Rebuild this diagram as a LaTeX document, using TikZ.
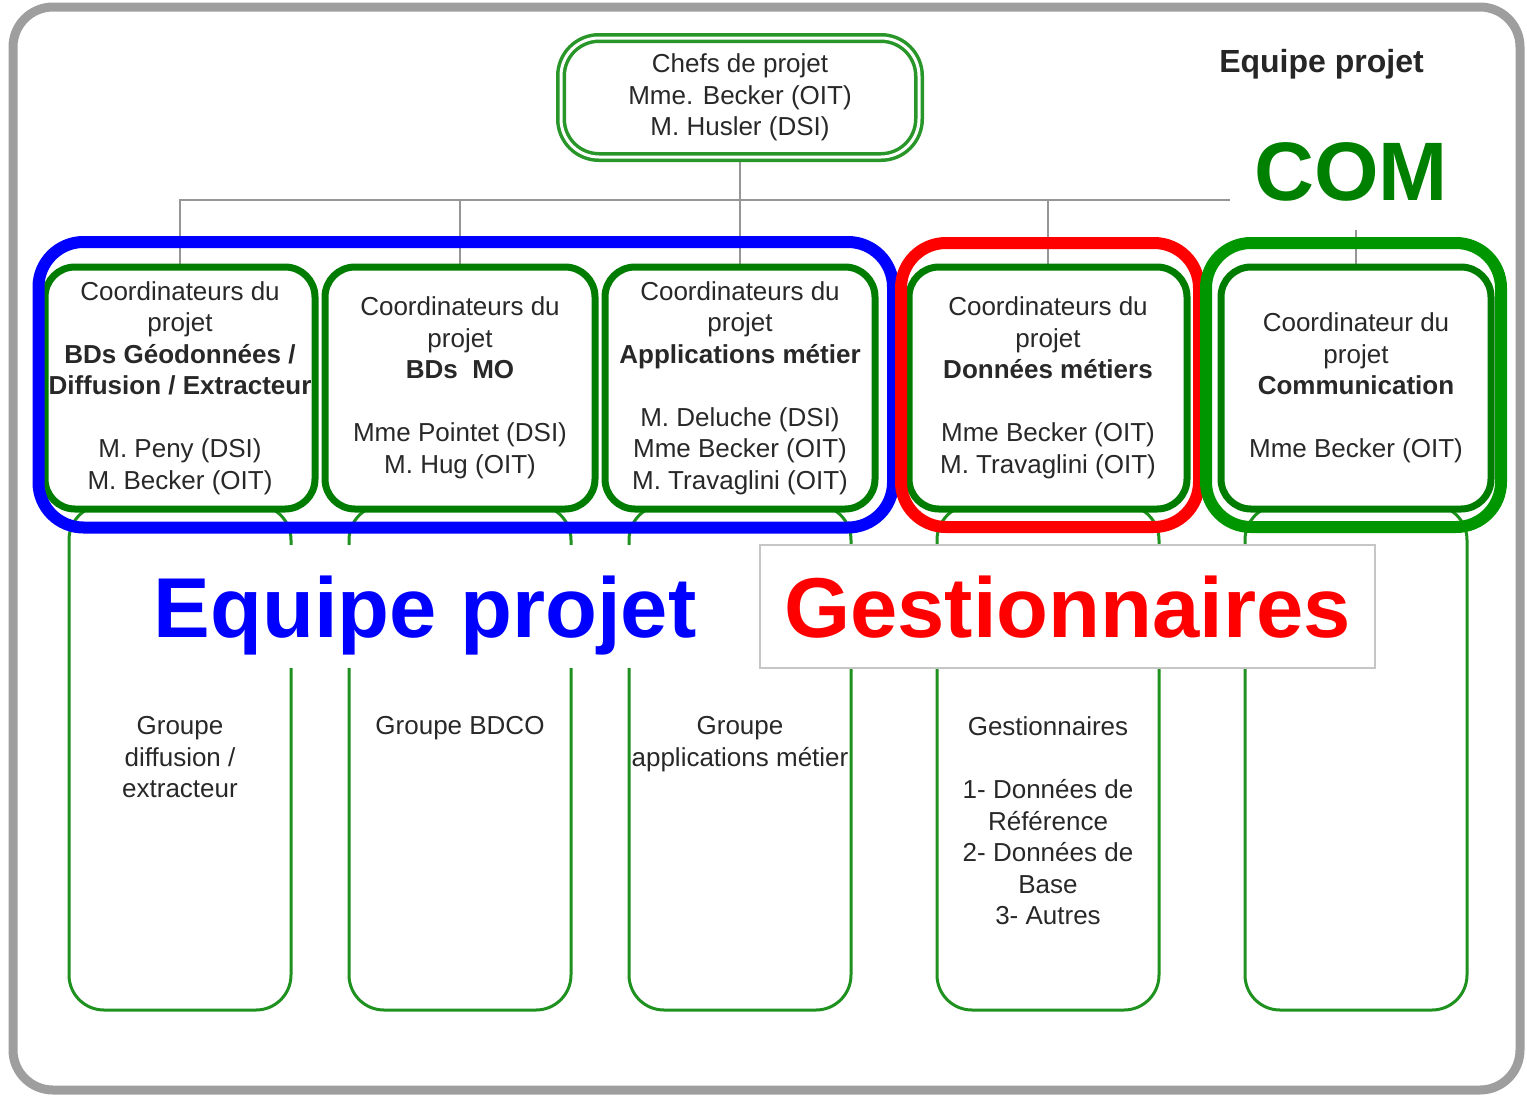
\documentclass[tikz,border=0pt]{standalone}
\usepackage{fontspec}
\setmainfont{Liberation Sans}
\usetikzlibrary{backgrounds}
\definecolor{framegray}{RGB}{158,158,158}
\definecolor{linegray}{RGB}{150,150,150}
\definecolor{coordgreen}{RGB}{0,125,0}
\definecolor{chefgreen}{RGB}{40,150,40}
\definecolor{groupgreen}{RGB}{30,145,30}
\definecolor{comgreen}{RGB}{0,150,0}
\definecolor{comtext}{RGB}{0,128,0}
\definecolor{eqblue}{RGB}{0,0,255}
\definecolor{gesred}{RGB}{255,0,0}
\definecolor{textgray}{RGB}{40,40,40}
\newcommand{\orgsmall}{\fontsize{26}{31.5}\selectfont}
\newcommand{\orgbig}{\fontsize{85}{90}\selectfont\bfseries}
\begin{document}
\begin{tikzpicture}[x=1pt,y=-1pt,
    every node/.style={inner sep=0pt, text=textgray, font=\orgsmall},
    chefbox/.style={draw=chefgreen, fill=white, line width=3.5pt, double=white, double distance=3pt, rounded corners=38pt, minimum width=358pt, minimum height=119pt, align=center},
    coordbox/.style={draw=coordgreen, fill=white, line width=7pt, rounded corners=30pt, minimum width=270pt, minimum height=242pt, align=center},
    groupbox/.style={draw=groupgreen, line width=3pt, rounded corners=35pt, minimum width=222pt, minimum height=505pt},
    grouptext/.style={anchor=north, align=center},
    biglabel/.style={minimum height=123pt, text height=62pt, text depth=0pt, font=\orgbig, fill=white},
    link/.style={draw=linegray, line width=2.5pt},
    teamframe/.style={line width=12pt, rounded corners=45pt}]
\useasboundingbox (0,0) rectangle (1527,1096);
\draw[draw=framegray, line width=9pt, rounded corners=40pt] (13,7) rectangle (1520,1090);

% groupes
\node[groupbox] (g1) at (180,757.5) {};
\node[groupbox] (g2) at (460,757.5) {};
\node[groupbox] (g3) at (740,757.5) {};
\node[groupbox] (g4) at (1048,757.5) {};
\node[groupbox] (g5) at (1356,757.5) {};
\node[grouptext] (t1) at ([yshift=-213pt]g1.north) {Groupe\\diffusion /\\extracteur};
\node[grouptext] (t2) at ([yshift=-213pt]g2.north) {Groupe BDCO};
\node[grouptext] (t3) at ([yshift=-213pt]g3.north) {Groupe\\applications métier};
\node[grouptext] (t4) at ([yshift=-213pt]g4.north) {Gestionnaires\\[31.5pt]1- Données de\\Référence\\2- Données de\\Base\\3- Autres};

\node[biglabel, minimum width=550pt, text=eqblue] (eqlabel) at (425,606.5) {Equipe projet};
\node[biglabel, minimum width=615pt, draw=gray!45, line width=1.5pt, text=gesred] (geslabel) at (1067.5,606.5) {Gestionnaires};

% coordinateurs
\node[chefbox] (chefs) at (740,97.5) {Chefs de projet\\Mme. Becker (OIT)\\M. Husler (DSI)};
\node[coordbox] (c1) at (180,388) {Coordinateurs du\\projet\\\textbf{BDs Géodonnées /}\\\textbf{Diffusion / Extracteur}\\[31.5pt]M. Peny (DSI)\\M. Becker (OIT)};
\node[coordbox] (c2) at (460,388) {Coordinateurs du\\projet\\\textbf{BDs~~MO}\\[31.5pt]Mme Pointet (DSI)\\M. Hug (OIT)};
\node[coordbox] (c3) at (740,388) {Coordinateurs du\\projet\\\textbf{Applications métier}\\[31.5pt]M. Deluche (DSI)\\Mme Becker (OIT)\\M. Travaglini (OIT)};
\node[coordbox, minimum width=278pt] (c4) at (1048,388) {Coordinateurs du\\projet\\\textbf{Données métiers}\\[31.5pt]Mme Becker (OIT)\\M. Travaglini (OIT)};
\node[coordbox] (c5) at (1356,388) {Coordinateur du\\projet\\\textbf{Communication}\\[31.5pt]Mme Becker (OIT)};

\coordinate (hub) at (740,200);
\coordinate (hubend) at (1230,200);
\coordinate (comtop) at (1356,230);
\begin{scope}[on background layer]
\draw[link] (chefs.south) -- (hub);
\draw[link] (c1.north) |- (hubend);
\draw[link] (c2.north) -- (c2.north |- hub);
\draw[link] (c3.north) -- (hub);
\draw[link] (c4.north) -- (c4.north |- hub);
\draw[link] (c5.north) -- (comtop);
\end{scope}

% cadres
\draw[teamframe, draw=eqblue] (38.5,242) rectangle (893,527.5);
\draw[teamframe, draw=gesred] (901,243) rectangle (1199,527);
\draw[teamframe, draw=comgreen] (1206,243) rectangle (1501,527);

\node[font=\fontsize{83}{90}\selectfont\bfseries, text=comtext, anchor=base] (comlabel) at (1351,200) {COM};
\node[font=\fontsize{32}{36}\selectfont\bfseries, text=black!85, anchor=base] (title) at (1321.5,72) {Equipe projet};
\end{tikzpicture}
\end{document}
